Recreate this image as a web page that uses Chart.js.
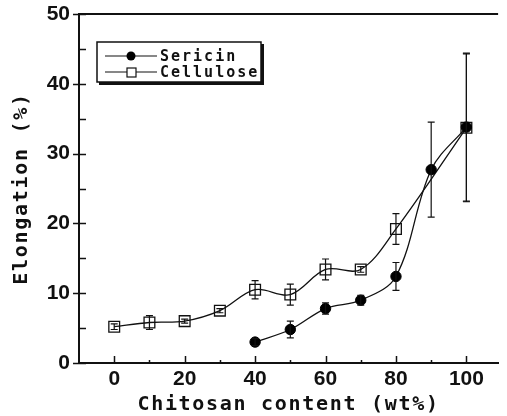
<!DOCTYPE html>
<html lang="en">
<head>
<meta charset="UTF-8">
<title>Elongation vs chitosan content</title>
<script src="https://cdn.jsdelivr.net/npm/chart.js@4"></script>
<style>
  html, body { margin: 0; padding: 0; background: #fff; }
</style>
</head>
<body>
<canvas id="chart" width="507" height="416"></canvas>
<script>
// chitosan content (wt%) and elongation (%) with +/- error
const chitosanSericin = [40, 50, 60, 70, 80, 90, 100];
const elongSericin = [3.0, 4.8, 7.8, 9.0, 12.4, 27.7, 33.8];
const errSericin = [0.5, 1.2, 0.8, 0.7, 2.0, 6.8, 10.6];

const chitosanCellulose = [0, 10, 20, 30, 40, 50, 60, 70, 80, 100];
const elongCellulose = [5.2, 5.8, 6.0, 7.5, 10.5, 9.8, 13.4, 13.4, 19.2, 33.7];
const errCellulose = [0.4, 1.0, 0.3, 0.3, 1.3, 1.5, 1.5, 0.4, 2.2, 10.6];

const xTickLabels = [0, 20, 40, 60, 80, 100];
const yTickLabels = [0, 10, 20, 30, 40, 50];

const INK = '#111';
const MONO = 'bold 20px "DejaVu Sans Mono"';

function points(xs, ys) {
  return xs.map((x, i) => ({ x: x, y: ys[i] }));
}

// vertical error bars with small caps
const errorBars = {
  id: 'errorBars',
  afterDatasetsDraw(chart) {
    const { ctx, scales: { x, y } } = chart;
    ctx.save();
    ctx.strokeStyle = INK;
    ctx.lineWidth = 1.2;
    chart.data.datasets.forEach(ds => {
      ds.data.forEach((p, i) => {
        const e = ds.errors[i];
        const px = x.getPixelForValue(p.x);
        const top = y.getPixelForValue(p.y + e);
        const bot = y.getPixelForValue(p.y - e);
        ctx.beginPath();
        ctx.moveTo(px, top); ctx.lineTo(px, bot);
        ctx.moveTo(px - 3.5, top); ctx.lineTo(px + 3.5, top);
        ctx.moveTo(px - 3.5, bot); ctx.lineTo(px + 3.5, bot);
        ctx.stroke();
      });
    });
    ctx.restore();
  }
};

// top frame line, inward tick marks, axis titles and boxed legend
const decorations = {
  id: 'decorations',
  afterDraw(chart) {
    const { ctx, chartArea: a, scales: { x, y } } = chart;
    ctx.save();
    ctx.strokeStyle = INK;
    ctx.lineWidth = 2;
    ctx.beginPath();
    ctx.moveTo(a.left - 1, a.top);
    ctx.lineTo(a.right, a.top);
    ctx.stroke();

    ctx.lineWidth = 1.5;
    ctx.beginPath();
    for (let v = 0; v <= 100; v += 10) {
      const px = Math.round(x.getPixelForValue(v)) + 0.5;
      const len = v % 20 === 0 ? 7 : 3;
      ctx.moveTo(px, a.bottom);
      ctx.lineTo(px, a.bottom - len);
    }
    for (let v = 0; v <= 50; v += 5) {
      const py = Math.round(y.getPixelForValue(v)) + 0.5;
      ctx.moveTo(a.left, py);
      ctx.lineTo(a.left + 7, py);
      if (v % 10 === 0) {
        ctx.moveTo(a.left, py);
        ctx.lineTo(a.left - 6, py);
      }
    }
    ctx.stroke();

    // axis titles
    ctx.fillStyle = INK;
    ctx.font = MONO;
    ctx.letterSpacing = '1.7px';
    ctx.textAlign = 'center';
    ctx.textBaseline = 'alphabetic';
    ctx.fillText('Chitosan content (wt%)', (a.left + a.right) / 2, 410);
    ctx.save();
    ctx.translate(22, (a.top + a.bottom) / 2);
    ctx.rotate(-Math.PI / 2);
    ctx.textBaseline = 'middle';
    ctx.fillText('Elongation (%)', 0, 0);
    ctx.restore();

    // legend box with drop shadow
    const bx = 97, by = 42, bw = 164, bh = 40;
    ctx.fillStyle = INK;
    ctx.fillRect(bx + 2, by + 2, bw + 1, bh + 1);
    ctx.fillStyle = '#fff';
    ctx.fillRect(bx, by, bw, bh);
    ctx.lineWidth = 1.5;
    ctx.strokeRect(bx, by, bw, bh);

    ctx.font = 'bold 15px "DejaVu Sans Mono"';
    ctx.letterSpacing = '2px';
    ctx.textAlign = 'left';
    ctx.textBaseline = 'middle';
    chart.data.datasets.forEach((ds, i) => {
      const ly = 56 + i * 16;
      ctx.strokeStyle = INK;
      ctx.lineWidth = 1.2;
      ctx.beginPath();
      ctx.moveTo(105, ly); ctx.lineTo(157, ly);
      ctx.stroke();
      if (ds.pointStyle === 'circle') {
        ctx.fillStyle = '#000';
        ctx.beginPath();
        ctx.arc(131, ly, 4.5, 0, Math.PI * 2);
        ctx.fill();
      } else {
        ctx.fillStyle = '#fff';
        ctx.fillRect(127, ly - 4, 9, 9);
        ctx.strokeRect(127, ly - 4, 9, 9);
      }
      ctx.fillStyle = INK;
      ctx.fillText(ds.label, 160, ly + 1);
    });
    ctx.restore();
  }
};

const tickFont = { family: '"Liberation Sans", Arial, sans-serif', size: 21, weight: 'bold' };

new Chart(document.getElementById('chart'), {
  type: 'line',
  data: {
    datasets: [
      {
        label: 'Sericin',
        data: points(chitosanSericin, elongSericin),
        errors: errSericin,
        borderColor: INK,
        borderWidth: 1.3,
        tension: 0.35,
        pointStyle: 'circle',
        pointRadius: 5.2,
        pointBackgroundColor: '#000',
        pointBorderColor: '#000',
        pointBorderWidth: 1
      },
      {
        label: 'Cellulose',
        data: points(chitosanCellulose, elongCellulose),
        errors: errCellulose,
        borderColor: INK,
        borderWidth: 1.3,
        tension: 0.35,
        pointStyle: 'rect',
        pointRadius: 7.6,
        pointBackgroundColor: 'rgba(255,255,255,0)',
        pointBorderColor: INK,
        pointBorderWidth: 1.3
      }
    ]
  },
  options: {
    responsive: false,
    animation: false,
    layout: { padding: { left: 0, top: 14, right: 0, bottom: 0 } },
    plugins: {
      legend: { display: false },
      tooltip: { enabled: false }
    },
    scales: {
      x: {
        type: 'linear',
        min: -10,
        max: 109,
        grid: { display: false },
        border: { display: true, color: INK, width: 2 },
        ticks: { color: INK, font: tickFont, padding: -4 },
        afterBuildTicks: s => { s.ticks = xTickLabels.map(v => ({ value: v })); },
        afterFit: s => { s.height = 53; }
      },
      y: {
        min: 0,
        max: 50,
        grid: { display: false },
        border: { display: true, color: INK, width: 2 },
        ticks: { color: INK, font: tickFont, padding: 1 },
        afterBuildTicks: s => { s.ticks = yTickLabels.map(v => ({ value: v })); },
        afterFit: s => { s.width = 79; }
      }
    }
  },
  plugins: [errorBars, decorations]
});
</script>
</body>
</html>
